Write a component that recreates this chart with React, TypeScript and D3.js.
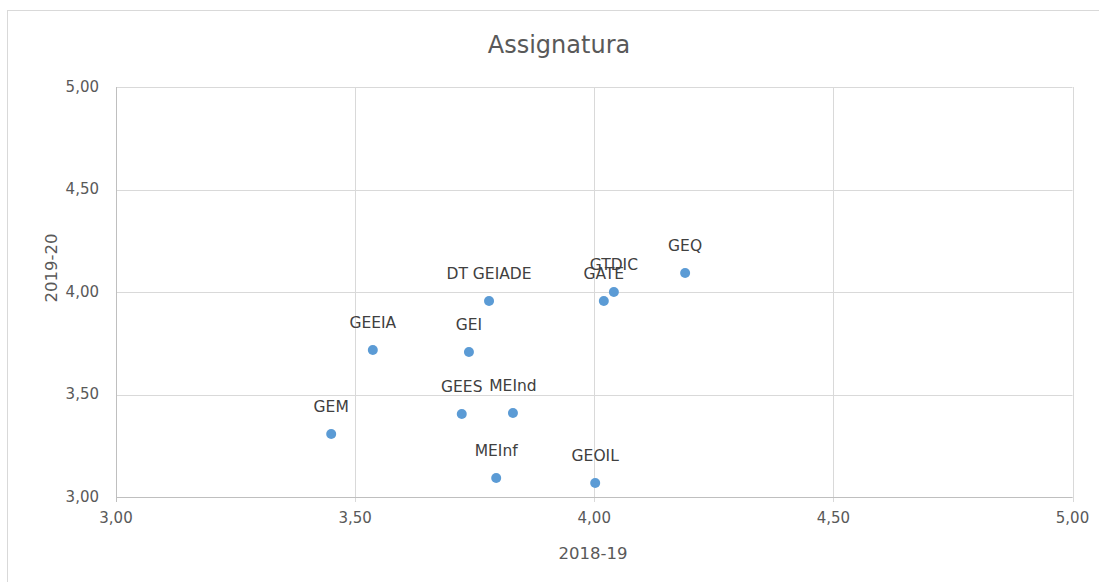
import React, { useEffect, useRef } from "react";
import * as d3 from "d3";

// programmes (labels) and their scores for both years
const labels = ["GEQ", "GTDIC", "GATE", "DT GEIADE", "GEI", "GEEIA", "GEES", "MEInd", "GEM", "MEInf", "GEOIL"];
const year1819 = [4.19, 4.041, 4.02, 3.78, 3.738, 3.537, 3.723, 3.83, 3.45, 3.795, 4.002];
const year1920 = [4.093, 4.0, 3.956, 3.956, 3.707, 3.717, 3.405, 3.41, 3.307, 3.093, 3.068];
const ticks = [3, 3.5, 4, 4.5, 5];

const W = 1099;
const H = 582;

const App: React.FC = () => {
  const ref = useRef<SVGSVGElement | null>(null);

  useEffect(() => {
    const svg = d3.select(ref.current);
    svg.selectAll("*").remove();

    const font = "'DejaVu Sans', sans-serif";
    const margin = { top: 87, right: 26.5, bottom: 85, left: 116 };

    const x = d3.scaleLinear().domain([3, 5]).range([margin.left, W - margin.right]);
    const y = d3.scaleLinear().domain([3, 5]).range([H - margin.bottom, margin.top]);
    const fmt = (v: number) => v.toFixed(2).replace(".", ",");

    // chart frame
    svg
      .append("rect")
      .attr("x", 7.5)
      .attr("y", 10.5)
      .attr("width", W + 20)
      .attr("height", H + 20)
      .attr("fill", "white")
      .attr("stroke", "#d9d9d9");

    // gridlines
    svg
      .append("g")
      .selectAll("line")
      .data(ticks)
      .join("line")
      .attr("x1", (d) => Math.round(x(d)) + 0.5)
      .attr("x2", (d) => Math.round(x(d)) + 0.5)
      .attr("y1", y(5))
      .attr("y2", y(3) + 5)
      .attr("stroke", "#d9d9d9");

    svg
      .append("g")
      .selectAll("line")
      .data(ticks)
      .join("line")
      .attr("x1", x(3))
      .attr("x2", x(5))
      .attr("y1", (d) => Math.round(y(d)) + 0.5)
      .attr("y2", (d) => Math.round(y(d)) + 0.5)
      .attr("stroke", "#d9d9d9");

    // axis lines slightly darker
    svg
      .append("line")
      .attr("x1", Math.round(x(3)) + 0.5)
      .attr("x2", Math.round(x(3)) + 0.5)
      .attr("y1", y(5))
      .attr("y2", y(3) + 5)
      .attr("stroke", "#bfbfbf");
    svg
      .append("line")
      .attr("x1", x(3))
      .attr("x2", x(5))
      .attr("y1", Math.round(y(3)) + 0.5)
      .attr("y2", Math.round(y(3)) + 0.5)
      .attr("stroke", "#bfbfbf");

    // tick labels
    svg
      .append("g")
      .selectAll("text")
      .data(ticks)
      .join("text")
      .attr("x", 99)
      .attr("y", (d) => y(d))
      .attr("dy", "0.3em")
      .attr("text-anchor", "end")
      .attr("font-family", font)
      .attr("font-size", 15)
      .attr("fill", "#595959")
      .text(fmt);

    svg
      .append("g")
      .selectAll("text")
      .data(ticks)
      .join("text")
      .attr("x", (d) => x(d))
      .attr("y", y(3) + 26)
      .attr("text-anchor", "middle")
      .attr("font-family", font)
      .attr("font-size", 15)
      .attr("fill", "#595959")
      .text(fmt);

    // title and axis titles
    svg
      .append("text")
      .attr("x", 559)
      .attr("y", 53)
      .attr("text-anchor", "middle")
      .attr("font-family", font)
      .attr("font-size", 24)
      .attr("fill", "#595959")
      .text("Assignatura");

    svg
      .append("text")
      .attr("x", 593)
      .attr("y", 559)
      .attr("text-anchor", "middle")
      .attr("font-family", font)
      .attr("font-size", 16.5)
      .attr("fill", "#595959")
      .text("2018-19");

    svg
      .append("text")
      .attr("transform", "translate(57,268) rotate(-90)")
      .attr("text-anchor", "middle")
      .attr("font-family", font)
      .attr("font-size", 16.5)
      .attr("fill", "#595959")
      .text("2019-20");

    const pts = labels.map((l, i) => ({ label: l, a: year1819[i], b: year1920[i] }));

    svg
      .append("g")
      .selectAll("circle")
      .data(pts)
      .join("circle")
      .attr("cx", (d) => x(d.a))
      .attr("cy", (d) => y(d.b))
      .attr("r", 5)
      .attr("fill", "#5b9bd5");

    svg
      .append("g")
      .selectAll("text")
      .data(pts)
      .join("text")
      .attr("x", (d) => x(d.a))
      .attr("y", (d) => y(d.b) - 22)
      .attr("text-anchor", "middle")
      .attr("font-family", font)
      .attr("font-size", 15.5)
      .attr("fill", "#404040")
      .text((d) => d.label);
  }, []);

  return (
    <svg
      ref={ref}
      width={W}
      height={H}
      style={{ position: "absolute", left: 0, top: 0, background: "white" }}
    />
  );
};

export default App;
